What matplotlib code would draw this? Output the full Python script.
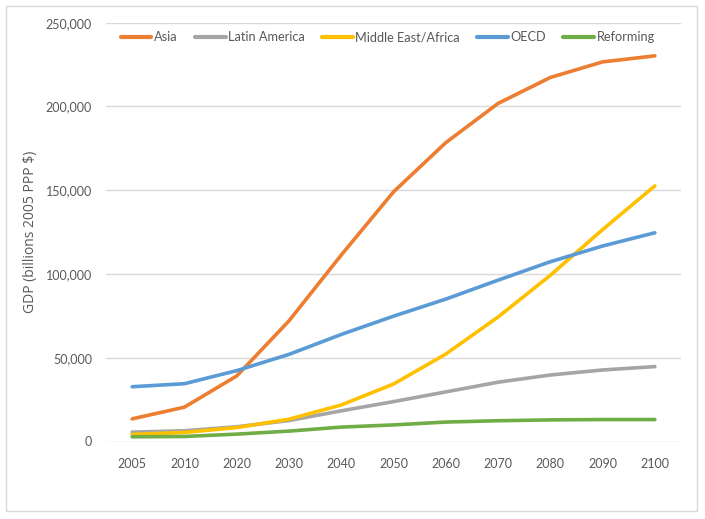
import matplotlib
matplotlib.use("Agg")
import matplotlib.pyplot as plt
from matplotlib.patches import Rectangle
from matplotlib.ticker import FuncFormatter

# Data (billions 2005 PPP $).
years = ["2005", "2010", "2020", "2030", "2040", "2050", "2060", "2070", "2080", "2090", "2100"]
asia = [13500, 20500, 39100, 72000, 111300, 149000, 178400, 201800, 217300, 226600, 230200]
latin_america = [5600, 6400, 8800, 12500, 18300, 23800, 29600, 35400, 39700, 42700, 44700]
middle_east_africa = [4200, 5400, 8300, 13300, 21800, 34300, 52200, 74300, 99200, 126500, 152600]
oecd = [32700, 34500, 42300, 52000, 63900, 74800, 85000, 96300, 107300, 116700, 124600]
reforming = [2800, 3000, 4400, 6200, 8600, 9900, 11600, 12400, 12900, 13100, 13100]

series = [
    ("Asia", asia, "#ED7D31"),
    ("Latin America", latin_america, "#A5A5A5"),
    ("Middle East/Africa", middle_east_africa, "#FFC000"),
    ("OECD", oecd, "#5B9BD5"),
    ("Reforming", reforming, "#70AD47"),
]

W, H = 705, 519
fig = plt.figure(figsize=(W / 100, H / 100), dpi=100)
fig.patch.set_facecolor("white")
# Chart border.
fig.patches.append(Rectangle((6 / W, 1 - 511 / H), 691 / W, 505 / H,
                             transform=fig.transFigure, fill=False,
                             edgecolor="#D9D9D9", linewidth=1))

left, right, top, bottom = 106, 681, 22.7, 441.5
ax = fig.add_axes([left / W, 1 - bottom / H, (right - left) / W, (bottom - top) / H])

x = list(range(len(years)))
for name, values, color in series:
    ax.plot(x, values, color=color, linewidth=2.6, label=name,
            solid_capstyle="round", solid_joinstyle="round")

ax.set_xlim(-0.5, len(years) - 0.5)
ax.set_ylim(0, 250000)
ax.set_yticks(range(0, 250001, 50000))
ax.yaxis.set_major_formatter(FuncFormatter(lambda v, p: f"{int(v):,}"))
ax.set_xticks(x)
ax.set_xticklabels(years)

ax.grid(axis="y", color="#D9D9D9", linewidth=1)
ax.set_axisbelow(True)
for side in ["top", "right", "left", "bottom"]:
    ax.spines[side].set_visible(False)
ax.tick_params(axis="both", length=0, labelsize=9, labelcolor="#595959")
ax.tick_params(axis="x", pad=12)
ax.tick_params(axis="y", pad=10)
for lab in ax.get_xticklabels() + ax.get_yticklabels():
    lab.set_family("Lato")

ax.set_ylabel("GDP (billions 2005 PPP $)", family="Open Sans", fontsize=10,
              color="#595959")
ax.yaxis.set_label_coords(-(left - 38) / (right - left), 0.5)

leg = ax.legend(loc="center", bbox_to_anchor=(0.49, (bottom - 37) / (bottom - top)),
                ncol=5, frameon=False, handlelength=2.4, handletextpad=0.2,
                columnspacing=1.35, prop={"family": "Lato", "size": 9.2})
for t in leg.get_texts():
    t.set_color("#595959")
for h in leg.get_lines():
    h.set_linewidth(3)

fig.savefig("out.png", dpi=100, facecolor="white")
